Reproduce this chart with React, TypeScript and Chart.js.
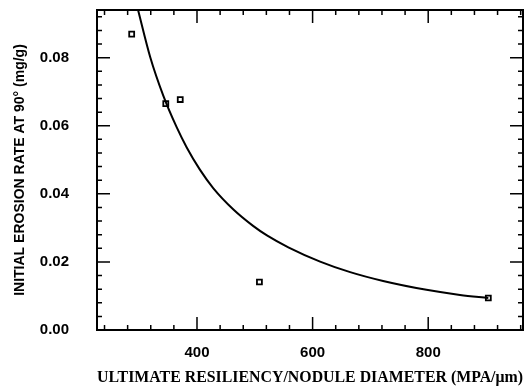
import React, { useEffect, useRef } from "react";
import { Chart, registerables } from "chart.js";

Chart.register(...registerables);

// Fitted curve
const curveX = [297, 319, 342, 365, 382, 405, 428, 463, 497, 521, 558, 613, 665, 722, 797, 855, 904];
const curveY = [
  0.0947, 0.0802, 0.0687, 0.0595, 0.0537, 0.0471, 0.0417, 0.0354, 0.0306, 0.0278, 0.0243, 0.0201, 0.017, 0.0144,
  0.0118, 0.0103, 0.0094,
];

// Measured points
const pointX = [287, 346, 371, 508, 904];
const pointY = [0.0869, 0.0665, 0.0677, 0.0141, 0.0094];

// Tick values
const xMajorTicks = [400, 600, 800];
const xMinorTicks = [240, 280, 320, 360, 440, 480, 520, 560, 640, 680, 720, 760, 840, 880, 920, 960];
const yMajorTicks = [0, 0.02, 0.04, 0.06, 0.08];
const yMinorTicks = [
  0.004, 0.008, 0.012, 0.016, 0.024, 0.028, 0.032, 0.036, 0.044, 0.048, 0.052, 0.056,
  0.064, 0.068, 0.072, 0.076, 0.084, 0.088, 0.092,
];

const X_MIN = 227;
const X_MAX = 964;
const Y_MIN = 0;
const Y_MAX = 0.094;

const framePlugin = {
  id: "framePlugin",
  afterDraw(chart: any) {
    const { ctx, chartArea } = chart;
    const { left, right, top, bottom } = chartArea;
    const xs = chart.scales.x;
    const ys = chart.scales.y;
    ctx.save();
    ctx.strokeStyle = "#000";
    ctx.lineWidth = 2;
    ctx.strokeRect(left, top, right - left, bottom - top);
    const major = 13;
    const minor = 5;
    ctx.beginPath();
    const xt = (v: number, len: number) => {
      const px = xs.getPixelForValue(v);
      if (px < left || px > right) return;
      ctx.moveTo(px, bottom);
      ctx.lineTo(px, bottom - len);
      ctx.moveTo(px, top);
      ctx.lineTo(px, top + len);
    };
    const yt = (v: number, len: number) => {
      const py = ys.getPixelForValue(v);
      if (py < top || py > bottom) return;
      ctx.moveTo(left, py);
      ctx.lineTo(left + len, py);
      ctx.moveTo(right, py);
      ctx.lineTo(right - len, py);
    };
    xMajorTicks.forEach((v) => xt(v, major));
    xMinorTicks.forEach((v) => xt(v, minor));
    yMajorTicks.forEach((v) => yt(v, major));
    yMinorTicks.forEach((v) => yt(v, minor));
    ctx.lineWidth = 1.5;
    ctx.stroke();
    ctx.restore();
  },
};

export default function App() {
  const ref = useRef<HTMLCanvasElement | null>(null);
  useEffect(() => {
    if (!ref.current) return;
    const chart = new Chart(ref.current, {
      type: "scatter",
      data: {
        datasets: [
          {
            type: "line",
            data: curveX.map((x, i) => ({ x, y: curveY[i] })),
            borderColor: "#000",
            borderWidth: 2,
            pointRadius: 0,
            cubicInterpolationMode: "monotone",
            fill: false,
          } as any,
          {
            data: pointX.map((x, i) => ({ x, y: pointY[i] })),
            pointStyle: "rect",
            pointRadius: 3.5,
            borderWidth: 1.8,
            borderColor: "#000",
            backgroundColor: "#fff",
          },
        ],
      },
      options: {
        animation: false,
        responsive: false,
        layout: { padding: { left: 0, right: 8, top: 10, bottom: 0 } },
        plugins: { legend: { display: false }, tooltip: { enabled: false } },
        scales: {
          x: {
            type: "linear",
            min: X_MIN,
            max: X_MAX,
            afterBuildTicks: (s: any) => {
              s.ticks = xMajorTicks.map((v) => ({ value: v }));
            },
            afterFit: (s: any) => {
              s.height = 58;
              s.paddingLeft = 0;
              s.paddingRight = 0;
            },
            grid: { display: false, drawTicks: false },
            border: { display: false },
            ticks: {
              color: "#000",
              padding: 14,
              font: { family: "Liberation Sans", size: 15, weight: "bold" },
              callback: (v: any) => String(v),
            },
            title: {
              display: true,
              text: "ULTIMATE RESILIENCY/NODULE DIAMETER (MPA/μm)",
              color: "#000",
              font: { family: "Liberation Serif", size: 16, weight: "bold" },
              padding: { top: 0, bottom: 1 },
            },
          },
          y: {
            type: "linear",
            min: Y_MIN,
            max: Y_MAX,
            afterBuildTicks: (s: any) => {
              s.ticks = yMajorTicks.map((v) => ({ value: v }));
            },
            afterFit: (s: any) => {
              s.width = 97;
              s.paddingTop = 0;
              s.paddingBottom = 0;
            },
            grid: { display: false, drawTicks: false },
            border: { display: false },
            ticks: {
              color: "#000",
              padding: 28,
              font: { family: "Liberation Sans", size: 15, weight: "bold" },
              callback: (v: any) => Number(v).toFixed(2),
            },
            title: {
              display: true,
              text: "INITIAL EROSION RATE AT 90° (mg/g)",
              color: "#000",
              font: { family: "Liberation Sans", size: 14, weight: "bold" },
              padding: { top: 12, bottom: 0 },
            },
          },
        },
      },
      plugins: [framePlugin],
    } as any);
    return () => chart.destroy();
  }, []);
  return (
    <div style={{ position: "fixed", left: 0, top: 0, width: 531, height: 388, background: "#fff" }}>
      <canvas ref={ref} width={531} height={388} style={{ width: 531, height: 388, display: "block" }} />
    </div>
  );
}
